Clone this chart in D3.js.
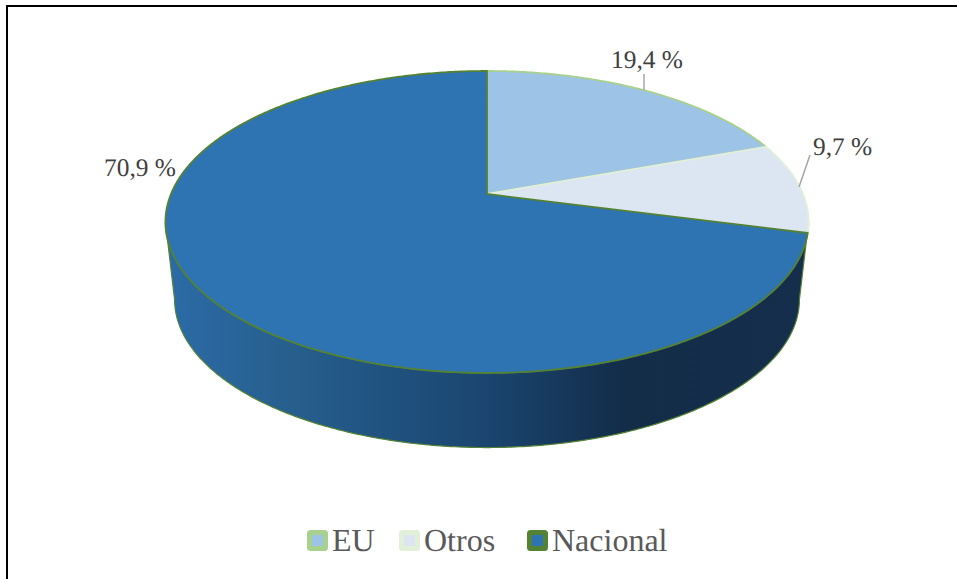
<!DOCTYPE html>
<html>
<head>
<meta charset="utf-8">
<script src="https://cdn.jsdelivr.net/npm/d3@7"></script>
<style>
  html, body { margin: 0; padding: 0; background: #fff; }
  text { font-family: "Liberation Serif", "Times New Roman", serif; text-rendering: geometricPrecision; }
</style>
</head>
<body>
<svg id="chart" width="957" height="579"></svg>
<script>
// Shares of origin, clockwise from twelve o'clock
const categories = ["EU", "Otros", "Nacional"];
const shares = [19.4, 9.7, 70.9];
const shareLabels = ["19,4 %", "9,7 %", "70,9 %"];
const fills = ["#9dc3e6", "#dce6f2", "#2e73b2"];
const strokes = ["#a9d18e", "#e2efd9", "#548235"];

const svg = d3.select("#chart");
const line = d3.line();

// Page frame: top and left rules only
svg.append("path")
  .attr("d", line([[7, 579], [7, 6], [957, 6]]))
  .attr("fill", "none").attr("stroke", "#000").attr("stroke-width", 2);

// Tilted disc: a perspective view of a unit circle around the pie's apex
const apex = { x: 487, y: 194 };
const tilt = { rx: 316, ry: 145.8, k: -0.1854 };
function project(angle, t = tilt, c = apex) {
  const u = Math.sin(angle), v = -Math.cos(angle), w = 1 + t.k * v;
  return [c.x + t.rx * u / w, c.y + t.ry * v / w];
}

// Lower rim of the drum, slightly smaller because it lies further from the eye
const floorCentre = { x: 487, y: 272 };
const floorTilt = { rx: 307, ry: 143, k: -0.1854 };

const arcs = d3.pie().value(d => d).sort(null)(shares);

function arcPoints(a0, a1, t, c) {
  const n = Math.max(2, Math.ceil(Math.abs(a1 - a0) / 0.01));
  return d3.range(n + 1).map(i => project(a0 + (a1 - a0) * i / n, t, c));
}

// Drum wall shading runs left to right across the visible front
const defs = svg.append("defs");
const wallGrad = defs.append("linearGradient")
  .attr("id", "wall").attr("gradientUnits", "userSpaceOnUse")
  .attr("x1", 165).attr("x2", 808).attr("y1", 0).attr("y2", 0);
[[0, "#2c6ba8"], [0.18, "#27608f"], [0.5, "#1a4570"], [0.72, "#132c48"], [1, "#142e4c"]]
  .forEach(([o, c]) => wallGrad.append("stop").attr("offset", o).attr("stop-color", c));

// Front of the drum, from the disc's widest points down to the lower rim
const sideStart = Math.PI * 0.5595, sideEnd = Math.PI * 1.4405;
const wallTop = arcPoints(sideStart, sideEnd, tilt, apex);
const wallBottom = arcPoints(sideEnd, sideStart, floorTilt, floorCentre);
svg.append("path")
  .attr("d", line(wallTop.concat(wallBottom)) + "Z")
  .attr("fill", "url(#wall)")
  .attr("stroke", "#548235").attr("stroke-width", 1.2);

// Disc slices
svg.append("g").selectAll("path")
  .data(arcs)
  .join("path")
  .attr("d", d => line([[apex.x, apex.y]].concat(arcPoints(d.startAngle, d.endAngle, tilt, apex))) + "Z")
  .attr("fill", (d, i) => fills[i])
  .attr("stroke", (d, i) => strokes[i])
  .attr("stroke-width", 1.8)
  .attr("stroke-linejoin", "round");

// Leader lines
const leaders = [
  [[644, 74], [644, 90]],
  [[810, 155], [799, 187]]
];
svg.append("g").selectAll("path")
  .data(leaders)
  .join("path")
  .attr("d", d => line(d))
  .attr("fill", "none")
  .attr("stroke", "#a6a6a6")
  .attr("stroke-width", 1.5);

// Percentage labels
const labelPos = [[611, 68], [813, 155], [104, 176]];
svg.append("g").selectAll("text")
  .data(shareLabels)
  .join("text")
  .attr("x", (d, i) => labelPos[i][0])
  .attr("y", (d, i) => labelPos[i][1])
  .attr("font-size", 25.4)
  .attr("fill", "#404040")
  .text(d => d);

// Legend
const legendX = [307, 399, 527];
const legend = svg.append("g").selectAll("g")
  .data(categories)
  .join("g")
  .attr("transform", (d, i) => `translate(${legendX[i]},530)`);
legend.append("rect")
  .attr("x", 2.5).attr("y", 2.5)
  .attr("width", 16).attr("height", 16)
  .attr("rx", 1)
  .attr("fill", (d, i) => fills[i])
  .attr("stroke", (d, i) => strokes[i])
  .attr("stroke-width", 5);
legend.append("text")
  .attr("x", 25).attr("y", 21)
  .attr("font-size", 32)
  .attr("fill", "#595959")
  .text(d => d);
</script>
</body>
</html>
